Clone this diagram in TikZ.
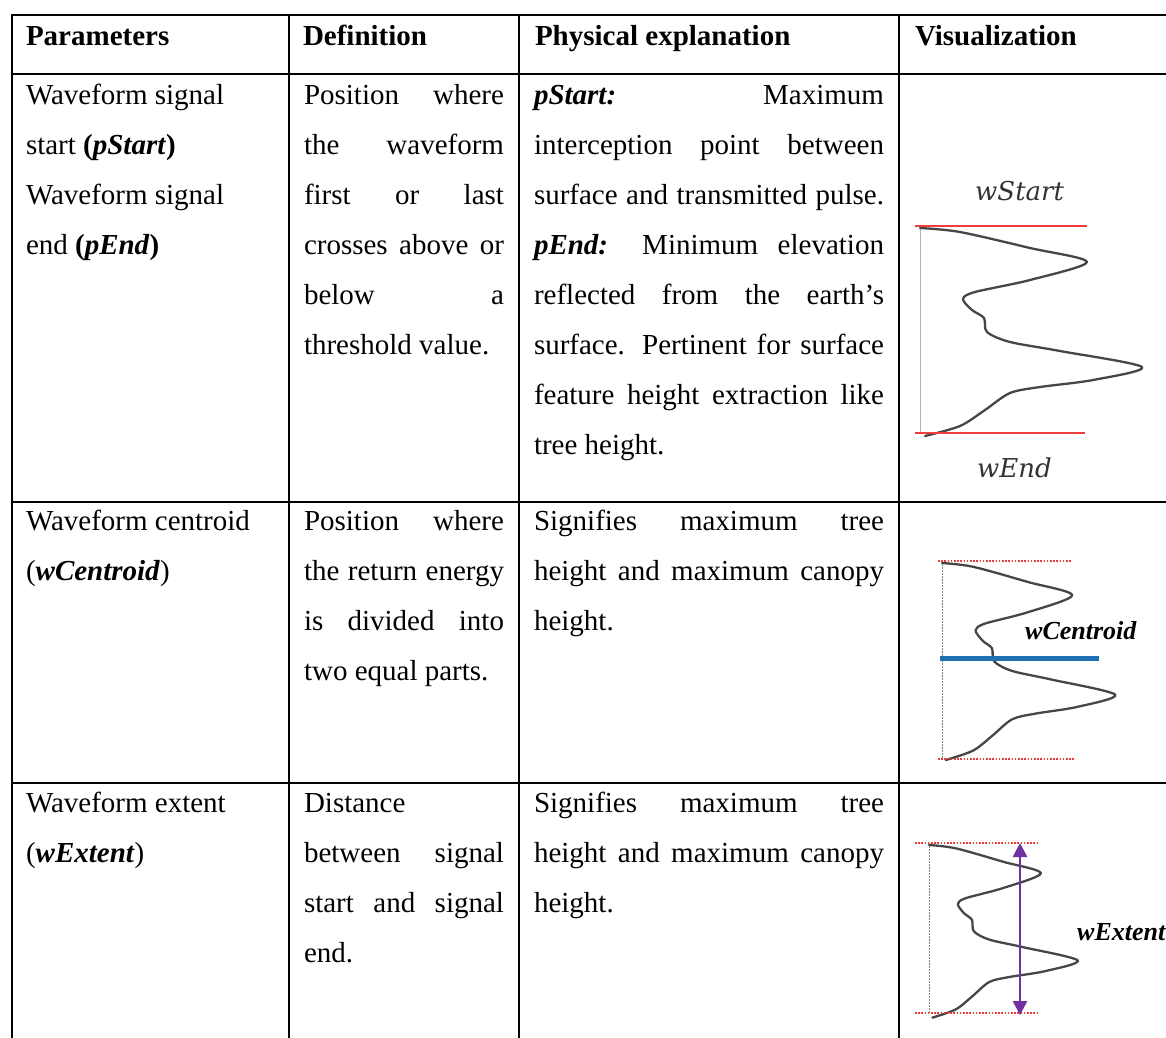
\documentclass[tikz,border=0pt]{standalone}
\usepackage{fontspec}
\setmainfont{Liberation Serif}
\newfontfamily\labfont{DejaVu Serif}
\usetikzlibrary{arrows.meta}
\definecolor{redline}{RGB}{240,60,60}
\definecolor{blueline}{RGB}{31,111,181}
\definecolor{purp}{RGB}{112,48,160}
\definecolor{olivegray}{RGB}{130,140,100}
\definecolor{wavegray}{RGB}{70,70,70}
\newcommand\jbox[2]{\makebox[#1pt][s]{#2}}
\begin{document}
\begin{tikzpicture}[x=1pt,y=-1pt,
  tx/.style={anchor=base west, inner sep=0pt, outer sep=0pt, font=\fontsize{29}{50}\selectfont},
  hd/.style={tx, font=\fontsize{29}{50}\selectfont\bfseries},
  gridline/.style={line width=2pt, black},
  wave/.style={line width=2.3pt, wavegray, line join=round, line cap=round},
  reddot/.style={redline, line width=1.3pt, dash pattern=on 1.6pt off 1.6pt},
  vdot/.style={olivegray, line width=1pt, dash pattern=on 1.5pt off 1.5pt},
  lab/.style={anchor=base west, inner sep=0pt, font=\fontsize{26}{30}\selectfont\bfseries\itshape},
  slab/.style={anchor=base west, inner sep=0pt, text=black!80, font=\fontsize{26}{30}\selectfont\labfont\itshape},
  wavepic/.pic={\draw[wave] plot[smooth,tension=0.5] coordinates {(0,0) (40,4) (110,20) (167,34) (110,52) (55,64) (43,71) (52,82) (64,90) (67,104) (90,114) (140,123) (222,139) (173,152) (120,159) (90,165) (65,182) (40,198) (5,208)};}
]
\useasboundingbox (0,0) rectangle (1166,1037);

% table grid
\draw[gridline] (11.7,15) -- (1167,15);
\draw[gridline] (11.7,74) -- (1167,74);
\draw[gridline] (11.7,502) -- (1167,502);
\draw[gridline] (11.7,783) -- (1167,783);
\draw[gridline] (11.7,14) -- (11.7,1038);
\draw[gridline] (289,14) -- (289,1038);
\draw[gridline] (519,14) -- (519,1038);
\draw[gridline] (899,14) -- (899,1038);

% header
\node[hd] (h1) at (26,45) {Parameters};
\node[hd] (h2) at (303,45) {Definition};
\node[hd] (h3) at (535,45) {Physical explanation};
\node[hd] (h4) at (915,45) {Visualization};

% row 1
\node[tx] (p1a) at (26,104) {Waveform signal};
\node[tx] (p1b) at (26,154) {start \textbf{(\textit{pStart})}};
\node[tx] (p1c) at (26,204) {Waveform signal};
\node[tx] (p1d) at (26,254) {end \textbf{(\textit{pEnd})}};

\node[tx] (d1a) at (304,104) {\jbox{200}{Position where}};
\node[tx] (d1b) at (304,154) {\jbox{200}{the waveform}};
\node[tx] (d1c) at (304,204) {\jbox{200}{first or last}};
\node[tx] (d1d) at (304,254) {\jbox{200}{crosses above or}};
\node[tx] (d1e) at (304,304) {\jbox{200}{below a}};
\node[tx] (d1f) at (304,354) {threshold value.};

\node[tx] (e1a) at (534,104) {\jbox{350}{\textbf{\textit{pStart:}} Maximum}};
\node[tx] (e1b) at (534,154) {\jbox{350}{interception point between}};
\node[tx] (e1c) at (534,204) {\jbox{350}{surface and transmitted pulse.}};
\node[tx] (e1d) at (534,254) {\jbox{350}{\textbf{\textit{pEnd:}} Minimum elevation}};
\node[tx] (e1e) at (534,304) {\jbox{350}{reflected from the earth’s}};
\node[tx] (e1f) at (534,354) {\jbox{350}{surface. Pertinent for surface}};
\node[tx] (e1g) at (534,404) {\jbox{350}{feature height extraction like}};
\node[tx] (e1h) at (534,454) {tree height.};

% row 2
\node[tx] (p2a) at (26,530) {Waveform centroid};
\node[tx] (p2b) at (26,580) {(\textbf{\textit{wCentroid}})};

\node[tx] (d2a) at (304,530) {\jbox{200}{Position where}};
\node[tx] (d2b) at (304,580) {\jbox{200}{the return energy}};
\node[tx] (d2c) at (304,630) {\jbox{200}{is divided into}};
\node[tx] (d2d) at (304,680) {two equal parts.};

\node[tx] (e2a) at (534,530) {\jbox{350}{Signifies maximum tree}};
\node[tx] (e2b) at (534,580) {\jbox{350}{height and maximum canopy}};
\node[tx] (e2c) at (534,630) {height.};

% row 3
\node[tx] (p3a) at (26,812) {Waveform extent};
\node[tx] (p3b) at (26,862) {(\textbf{\textit{wExtent}})};

\node[tx] (d3a) at (304,812) {Distance};
\node[tx] (d3b) at (304,862) {\jbox{200}{between signal}};
\node[tx] (d3c) at (304,912) {\jbox{200}{start and signal}};
\node[tx] (d3d) at (304,962) {end.};

\node[tx] (e3a) at (534,812) {\jbox{350}{Signifies maximum tree}};
\node[tx] (e3b) at (534,862) {\jbox{350}{height and maximum canopy}};
\node[tx] (e3c) at (534,912) {height.};

% visualization row 1
\draw[gray!60, line width=0.8pt] (920,226) -- (920,434);
\pic at (920,228) {wavepic};
\draw[redline, line width=1.8pt] (915,226) -- (1087,226);
\draw[redline, line width=1.8pt] (915,433) -- (1085,433);
\node[slab] (ws) at (975,200) {wStart};
\node[slab] (we) at (977,477) {wEnd};

% visualization row 2
\draw[vdot] (942,561) -- (942,759);
\pic[xscale=0.78, yscale=0.947] at (942,563) {wavepic};
\draw[reddot] (938,561) -- (1072,561);
\draw[reddot] (938,759) -- (1075,759);
\draw[blueline, line width=5pt] (940,658) -- (1099,658);
\node[lab] (wc) at (1025,639) {wCentroid};

% visualization row 3
\draw[vdot] (929,843) -- (929,1014);
\pic[xscale=0.67, yscale=0.83] at (929,845) {wavepic};
\draw[reddot] (915,843) -- (1038,843);
\draw[reddot] (915,1013) -- (1038,1013);
\coordinate (at) at (1020,843);
\coordinate (ab) at (1020,1015);
\draw[purp, line width=2.6pt, {Triangle[width=14pt,length=14pt]}-{Triangle[width=14pt,length=14pt]}] (at) -- (ab);
\node[lab] (wx) at (1077,940) {wExtent};
\end{tikzpicture}
\end{document}
